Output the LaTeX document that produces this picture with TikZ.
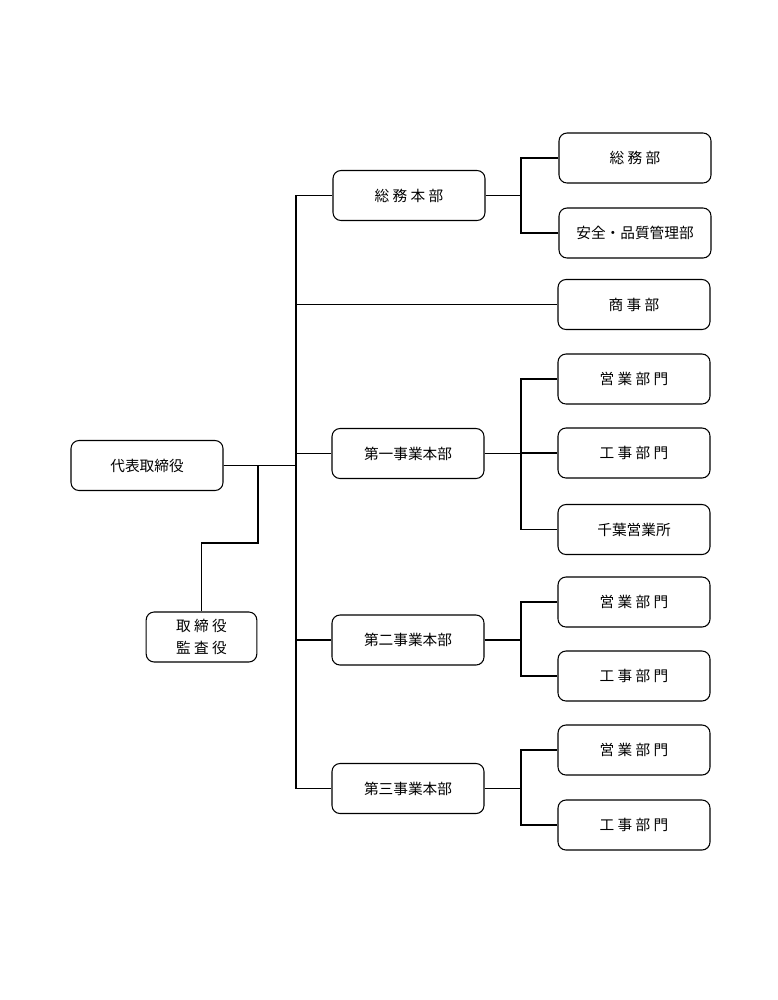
\documentclass[tikz,border=0pt]{standalone}
\usepackage{fontspec}
\setmainfont{Noto Sans CJK JP}
\usetikzlibrary{positioning,calc}

\begin{document}
\begin{tikzpicture}
[x=0.75pt,y=-0.75pt,
every node/.style={draw,rounded corners=6pt,font=\fontsize{11}{17}\selectfont,
  minimum width=114pt,minimum height=37.5pt,align=center,line width=0.8pt},
every path/.style={line width=0.8pt}]
\useasboundingbox (0,0) rectangle (778,1000);
% left side
\node (ceo) at (147,465.5) {代表取締役};
\node[minimum width=83pt] (aud) at (201.5,637) {取 締 役\\監 査 役};
% head offices
\node (hq0) at (409,195.5) {総 務 本 部};
\node (hq1) at (408,453.5) {第一事業本部};
\node (hq2) at (408,640) {第二事業本部};
\node (hq3) at (408,788.5) {第三事業本部};
% departments
\node (ga)    at (635,158)   {総 務 部};
\node (qa)    at (635,233)   {安全・品質管理部};
\node (trade) at (634,304.5) {商 事 部};
\node (s1)    at (634,379)   {営 業 部 門};
\node (c1)    at (634,453)   {工 事 部 門};
\node (chiba) at (634,529.5) {千葉営業所};
\node (s2)    at (634,602)   {営 業 部 門};
\node (c2)    at (634,676)   {工 事 部 門};
\node (s3)    at (634,750)   {営 業 部 門};
\node (c3)    at (634,825)   {工 事 部 門};
\coordinate (trunk) at (296,0);
\coordinate (bus) at (521,0);
\coordinate (bend) at (258,543);
\foreach \c in {hq0,trade,hq1,hq2,hq3}
  \draw (ceo.east) -- (ceo.east -| trunk) |- (\c.west);
\draw (bend |- ceo.east) -- (bend) -| (aud.north);
\foreach \p/\c in {hq0/ga,hq0/qa,hq1/s1,hq1/c1,hq1/chiba,hq2/s2,hq2/c2,hq3/s3,hq3/c3}
  \draw (\p.east) -- (\p.east -| bus) |- (\c.west);
\end{tikzpicture}
\end{document}
